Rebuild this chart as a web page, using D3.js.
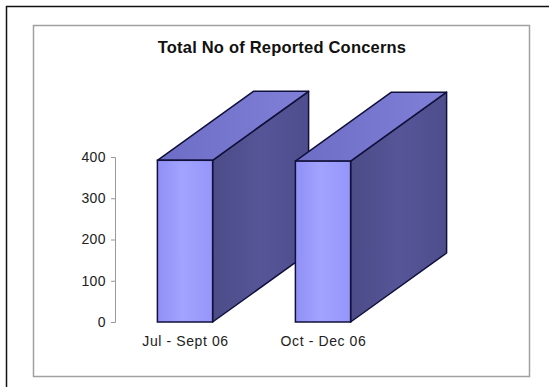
<!DOCTYPE html>
<html>
<head>
<meta charset="utf-8">
<script src="https://cdn.jsdelivr.net/npm/d3@7"></script>
<style>
  html, body { margin: 0; padding: 0; background: #fff; }
  svg { display: block; font-family: "Liberation Sans", Arial, sans-serif; }
</style>
</head>
<body>
<svg id="chart" width="555" height="387"></svg>
<script>
// Quarterly totals of reported concerns
const categories = ["Jul - Sept 06", "Oct - Dec 06"];
const values = [392, 390];
const yTicks = [0, 100, 200, 300, 400];
const title = "Total No of Reported Concerns";

const svg = d3.select("#chart");

// Page frame (top and left edges) and the chart area border
svg.append("line").attr("x1", 6).attr("y1", 6.5).attr("x2", 549).attr("y2", 6.5)
  .attr("stroke", "#111").attr("stroke-width", 1.5);
svg.append("line").attr("x1", 6.5).attr("y1", 6).attr("x2", 6.5).attr("y2", 387)
  .attr("stroke", "#111").attr("stroke-width", 1.5);
svg.append("rect").attr("x", 33.5).attr("y", 25.5).attr("width", 496).attr("height", 351)
  .attr("fill", "#fff").attr("stroke", "#a0a0a0").attr("stroke-width", 1.5);

svg.append("text").attr("x", 282).attr("y", 53).attr("text-anchor", "middle")
  .attr("font-size", 16.5).attr("font-weight", "bold").attr("letter-spacing", 0.2)
  .attr("fill", "#111").text(title);

const y = d3.scaleLinear().domain([0, 400]).range([322, 157]);
const x = d3.scaleBand().domain(categories).range([116, 392])
  .paddingInner(0.6).paddingOuter(0.3);

// 3D depth offset of each block
const depthX = 96, depthY = 69;

// Value axis
const axis = d3.axisLeft(y).tickValues(yTicks).tickSize(4).tickPadding(5);
const gAxis = svg.append("g").attr("transform", "translate(115,0)").call(axis);
gAxis.select(".domain").attr("stroke", "#999");
gAxis.selectAll(".tick line").attr("stroke", "#999");
gAxis.selectAll(".tick text").attr("font-size", 14).attr("letter-spacing", 0.4).attr("fill", "#222")
  .attr("font-family", "Liberation Sans, Arial, sans-serif");

// Gradients for the faces
const defs = svg.append("defs");
const gFront = defs.append("linearGradient").attr("id", "front").attr("x1", 0).attr("x2", 1);
gFront.append("stop").attr("offset", "0%").attr("stop-color", "#9090f6");
gFront.append("stop").attr("offset", "45%").attr("stop-color", "#a2a2ff");
gFront.append("stop").attr("offset", "100%").attr("stop-color", "#9696fa");
const gSide = defs.append("linearGradient").attr("id", "side").attr("x1", 0).attr("x2", 1);
gSide.append("stop").attr("offset", "0%").attr("stop-color", "#4c4c88");
gSide.append("stop").attr("offset", "50%").attr("stop-color", "#555598");
gSide.append("stop").attr("offset", "100%").attr("stop-color", "#4e4e8e");
const gTop = defs.append("linearGradient").attr("id", "top").attr("x1", 0).attr("x2", 1);
gTop.append("stop").attr("offset", "0%").attr("stop-color", "#6d6dc6");
gTop.append("stop").attr("offset", "100%").attr("stop-color", "#8080d8");

const bars = svg.append("g").selectAll("g.bar")
  .data(categories.map((c, i) => ({ c, v: values[i] })))
  .join("g").attr("class", "bar");

const edge = "#10103a";

bars.each(function(d) {
  const g = d3.select(this);
  const x0 = x(d.c), x1 = x0 + x.bandwidth();
  const yt = y(d.v), yb = y(0);
  // right side face
  g.append("path")
    .attr("d", `M${x1},${yt}L${x1 + depthX},${yt - depthY}L${x1 + depthX},${yb - depthY}L${x1},${yb}Z`)
    .attr("fill", "url(#side)").attr("stroke", edge).attr("stroke-width", 1.5).attr("stroke-linejoin", "round");
  // top face
  g.append("path")
    .attr("d", `M${x0},${yt}L${x0 + depthX},${yt - depthY}L${x1 + depthX},${yt - depthY}L${x1},${yt}Z`)
    .attr("fill", "url(#top)").attr("stroke", edge).attr("stroke-width", 1.5).attr("stroke-linejoin", "round");
  // front face
  g.append("rect").attr("x", x0).attr("y", yt).attr("width", x1 - x0).attr("height", yb - yt)
    .attr("fill", "url(#front)").attr("stroke", edge).attr("stroke-width", 1.5);
});

// Category labels
svg.append("g").selectAll("text").data(categories).join("text")
  .attr("x", d => x(d) + x.bandwidth() / 2 + 0.5)
  .attr("y", 346)
  .attr("text-anchor", "middle")
  .attr("font-size", 14)
  .attr("letter-spacing", 0.6)
  .attr("fill", "#222")
  .text(d => d);
</script>
</body>
</html>
